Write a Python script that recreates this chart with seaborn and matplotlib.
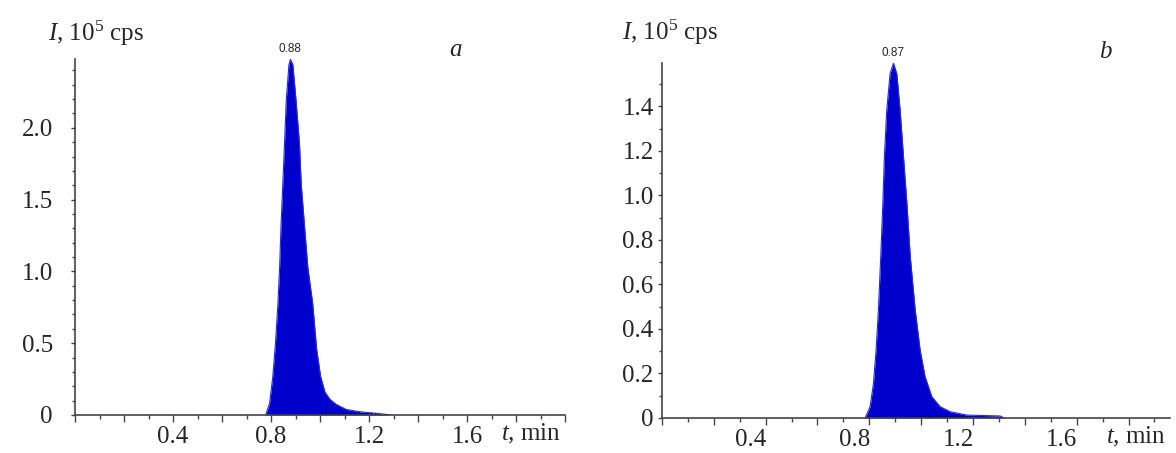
import numpy as np
import pandas as pd
import matplotlib
matplotlib.use("Agg")
import matplotlib.pyplot as plt
import seaborn as sns
from matplotlib.ticker import MultipleLocator, FuncFormatter
from matplotlib.transforms import ScaledTranslation

# chromatogram a (t in min, I in 1e5 cps)
t_a = [0.778, 0.794, 0.807, 0.818, 0.828, 0.835, 0.841, 0.848, 0.855, 0.862, 0.873, 0.879,
       0.889, 0.902, 0.916, 0.923, 0.936, 0.950, 0.970, 0.986, 1.002, 1.020, 1.040, 1.065,
       1.106, 1.160, 1.228, 1.290]
i_a = [0.0, 0.081, 0.266, 0.498, 0.775, 1.03, 1.33, 1.61, 1.89, 2.19, 2.44, 2.477,
       2.44, 2.19, 1.89, 1.61, 1.33, 1.03, 0.775, 0.46, 0.27, 0.16, 0.11, 0.075,
       0.039, 0.023, 0.012, 0.0]
peak_a = 0.88

# chromatogram b
t_b = [0.784, 0.803, 0.816, 0.826, 0.835, 0.844, 0.852, 0.858, 0.867, 0.880, 0.893,
       0.906, 0.919, 0.932, 0.945, 0.958, 0.977, 0.996, 1.015, 1.041, 1.073, 1.112,
       1.176, 1.305, 1.320]
i_b = [0.0, 0.051, 0.156, 0.305, 0.485, 0.724, 0.963, 1.17, 1.38, 1.547, 1.594,
       1.547, 1.38, 1.17, 0.963, 0.724, 0.485, 0.305, 0.186, 0.096, 0.051, 0.028,
       0.013, 0.009, 0.0]
peak_b = 0.87

# integration baselines (dotted)
base_a = [1.005, 1.23]
base_b = [0.996, 1.19]

sns.set_theme(style="ticks")
plt.rcParams["font.family"] = ["Liberation Serif", "DejaVu Serif"]
plt.rcParams["mathtext.fontset"] = "custom"
plt.rcParams["mathtext.rm"] = "Liberation Serif"
plt.rcParams["mathtext.it"] = "Liberation Serif:italic"

fig = plt.figure(figsize=(11.76, 4.53), dpi=100)
ax1 = fig.add_axes([0.0638, 0.0839, 0.4167, 0.786])
ax2 = fig.add_axes([0.5629, 0.0773, 0.432, 0.7837])

blue = "#0000cc"
panels = [
    (ax1, t_a, i_a, peak_a, base_a, 2.48, 2.0, 0.5, "a", 13, -0.055, 1.073, 0.776, 1.025, 1.86),
    (ax2, t_b, i_b, peak_b, base_b, 1.595, 1.96, 0.2, "b", 3, -0.079, 1.085, 0.872, 1.03, 1.83),
]

def xfmt(v, pos):
    r = round(v, 2)
    if r in (0.4, 0.8, 1.2, 1.6):
        return f"{r:.1f}"
    return ""

def yfmt(v, pos):
    if abs(v) < 1e-9:
        return "0"
    return f"{v:.1f}"

for ax, t, i, pk, base, ytop, xmax, ystep, letter, ypad, lx, ly, px, py, tx in panels:
    df = pd.DataFrame({"t": t, "I": i})
    ax.fill_between(df["t"], df["I"], 0, color=blue, linewidth=0)
    sns.lineplot(data=df, x="t", y="I", ax=ax, color="#2a2ae0", linewidth=0.8,
                 sort=False, estimator=None)
    ax.plot(base, [0.004 * ytop, 0.004 * ytop], color="black", linestyle=(0, (1, 1.5)),
            linewidth=1.2)
    ymax_i = int(np.argmax(i))
    ax.annotate(f"{pk:.2f}", (t[ymax_i], i[ymax_i]), xytext=(0, 3),
                textcoords="offset points", ha="center", va="bottom",
                fontsize=8.5, family=["Liberation Sans", "DejaVu Sans"])

    ax.set_xlim(0, xmax)
    ax.set_ylim(0, ytop)
    ax.set_xlabel("")
    ax.set_ylabel("")
    ax.xaxis.set_major_locator(MultipleLocator(0.2))
    ax.xaxis.set_minor_locator(MultipleLocator(0.1))
    ax.xaxis.set_major_formatter(FuncFormatter(xfmt))
    ax.yaxis.set_major_locator(MultipleLocator(ystep))
    ax.yaxis.set_minor_locator(MultipleLocator(0.1))
    ax.yaxis.set_major_formatter(FuncFormatter(yfmt))
    ax.tick_params(axis="x", which="major", length=5, width=1, pad=3, labelsize=18,
                   color="#444444")
    ax.tick_params(axis="x", which="minor", length=3, width=1, color="#444444")
    ax.tick_params(axis="y", which="major", length=3, width=1, pad=ypad, labelsize=18,
                   color="#444444")
    ax.tick_params(axis="y", which="minor", length=2, width=1, color="#444444")
    sns.despine(ax=ax)
    for s in ("left", "bottom"):
        ax.spines[s].set_color("#444444")
        ax.spines[s].set_linewidth(1.2)

    ax.text(lx, ly, "$I$, 10$^5$ cps", transform=ax.transAxes, ha="left", va="center",
            fontsize=18)
    ax.text(px, py, letter, transform=ax.transAxes, ha="center", va="center",
            fontsize=18, style="italic")
    ax.text(tx, -0.053, "$t$, min", transform=ax.get_xaxis_transform(), ha="center",
            va="center", fontsize=18)

# panel b's time labels sit a little left of their ticks in the original
fig.canvas.draw()
shift = ScaledTranslation(-15 / 100, 0, fig.dpi_scale_trans)
for tick in ax2.xaxis.get_major_ticks():
    tick.label1.set_transform(tick.label1.get_transform() + shift)

fig.savefig("out.png", dpi=100)
